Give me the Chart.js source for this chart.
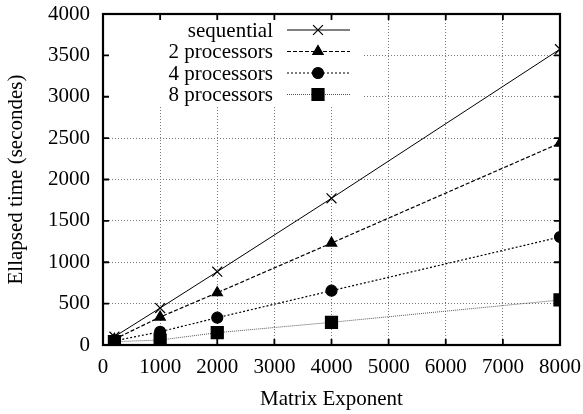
<!DOCTYPE html>
<html>
<head>
<meta charset="utf-8">
<script src="https://cdn.jsdelivr.net/npm/chart.js@4/dist/chart.umd.min.js"></script>
<style>
html,body{margin:0;padding:0;background:#fff;}
#wrap{width:583px;height:414px;position:relative;}
</style>
</head>
<body>
<div id="wrap"><canvas id="c" width="583" height="414"></canvas></div>
<script>
const exponents = [200, 1000, 2000, 4000, 8000];
const sequential = [100, 447, 886, 1773, 3575];
const proc2 = [70, 338, 632, 1232, 2440];
const proc4 = [50, 160, 330, 656, 1305];
const proc8 = [40, 60, 149, 274, 544];
const seriesLabels = ['sequential', '2 processors', '4 processors', '8 processors'];
const xTitle = 'Matrix Exponent';
const yTitle = 'Ellapsed time (secondes)';

const FONT = 'Liberation Serif';
const styles = [
  {color:'#000', dash:[], pointStyle:'crossRot', radius:7, line:1},
  {color:'#000', dash:[4,2], pointStyle:'triangle', radius:6, line:1.2},
  {color:'#000', dash:[2,2], pointStyle:'circle', radius:5.5, line:1.2},
  {color:'#555', dash:[1,1], pointStyle:'rect', radius:8.5, line:1},
];
const seriesData = [sequential, proc2, proc4, proc8];

const datasets = seriesData.map((vals, i) => ({
  label: seriesLabels[i],
  data: exponents.map((x, j) => ({x: x, y: vals[j]})),
  borderColor: styles[i].color,
  borderWidth: styles[i].line,
  borderDash: styles[i].dash,
  pointStyle: styles[i].pointStyle,
  pointRadius: styles[i].radius,
  pointBackgroundColor: '#000',
  pointBorderColor: '#000',
  pointBorderWidth: 1.2,
  fill: false,
  tension: 0
}));

const legendBox = {
  id: 'legendBox',
  beforeDatasetsDraw(chart) {
    const a = chart.chartArea, ctx = chart.ctx;
    ctx.save();
    ctx.fillStyle = '#fff';
    ctx.fillRect(a.left + 1, a.top + 1, 258, 90);
    ctx.restore();
  },
  afterDraw(chart) {
    const a = chart.chartArea, ctx = chart.ctx;
    ctx.save();
    ctx.strokeStyle = '#000';
    ctx.lineWidth = 2.2;
    ctx.setLineDash([]);
    ctx.strokeRect(a.left, a.top, a.right - a.left, a.bottom - a.top);
    ctx.lineWidth = 1.8;
    const xs = chart.scales.x, ys = chart.scales.y;
    xs.ticks.forEach(t => {
      const px = xs.getPixelForValue(t.value);
      ctx.beginPath();
      ctx.moveTo(px, a.bottom); ctx.lineTo(px, a.bottom - 6);
      ctx.moveTo(px, a.top); ctx.lineTo(px, a.top + 6);
      ctx.stroke();
    });
    ys.ticks.forEach(t => {
      const py = ys.getPixelForValue(t.value);
      ctx.beginPath();
      ctx.moveTo(a.left, py); ctx.lineTo(a.left + 6, py);
      ctx.moveTo(a.right, py); ctx.lineTo(a.right - 6, py);
      ctx.stroke();
    });
    ctx.font = '21px "' + FONT + '"';
    ctx.textAlign = 'right';
    ctx.textBaseline = 'middle';
    chart.data.datasets.forEach((ds, i) => {
      const y = a.top + 16 + i * 21.5;
      ctx.fillStyle = '#000';
      ctx.fillText(ds.label, a.left + 170, y + 1);
      ctx.strokeStyle = styles[i].color;
      ctx.lineWidth = styles[i].line;
      ctx.setLineDash(styles[i].dash);
      ctx.beginPath();
      ctx.moveTo(a.left + 184, y); ctx.lineTo(a.left + 247, y);
      ctx.stroke();
      ctx.setLineDash([]);
      ctx.fillStyle = '#000';
      ctx.strokeStyle = '#000';
      ctx.lineWidth = 1.2;
      Chart.helpers.drawPoint(ctx, {pointStyle: styles[i].pointStyle, radius: styles[i].radius, borderWidth: 1.2}, a.left + 215, y);
      if (styles[i].pointStyle !== 'crossRot') ctx.fill();
    });
    ctx.restore();
  }
};

const gridColor = (ctx) => {
  const v = ctx.tick ? ctx.tick.value : null;
  if (v === 0 || v === 8000 || v === 4000 && ctx.scale.axis === 'y') return 'rgba(0,0,0,0)';
  return '#777';
};

new Chart(document.getElementById('c'), {
  type: 'line',
  data: {datasets},
  plugins: [legendBox],
  options: {
    responsive: false,
    animation: false,
    layout: {padding: {top: 14, right: 23, left: 0, bottom: 0}},
    plugins: {legend: {display: false}, tooltip: {enabled: false}},
    scales: {
      x: {
        type: 'linear', min: 0, max: 8000,
        afterFit: s => { s.height = 69; s.paddingLeft = 0; s.paddingRight = 0; },
        ticks: {stepSize: 1000, color: '#000', padding: 10, maxRotation: 0,
                callback: v => String(v),
                font: {family: FONT, size: 21}},
        grid: {drawTicks: false, color: gridColor, lineWidth: 1},
        border: {display: false, dash: [1, 2]},
        title: {display: true, text: xTitle, color: '#000', padding: {top: 0, bottom: 2},
                font: {family: FONT, size: 21}}
      },
      y: {
        type: 'linear', min: 0, max: 4000,
        afterFit: s => { s.width = 103; s.paddingTop = 0; s.paddingBottom = 0; },
        ticks: {stepSize: 500, color: '#000', padding: 13,
                callback: v => String(v),
                font: {family: FONT, size: 21}},
        grid: {drawTicks: false, color: gridColor, lineWidth: 1},
        border: {display: false, dash: [1, 2]},
        title: {display: true, text: yTitle, color: '#000', padding: {top: 4, bottom: 0},
                font: {family: FONT, size: 21}}
      }
    }
  }
});
</script>
</body>
</html>
